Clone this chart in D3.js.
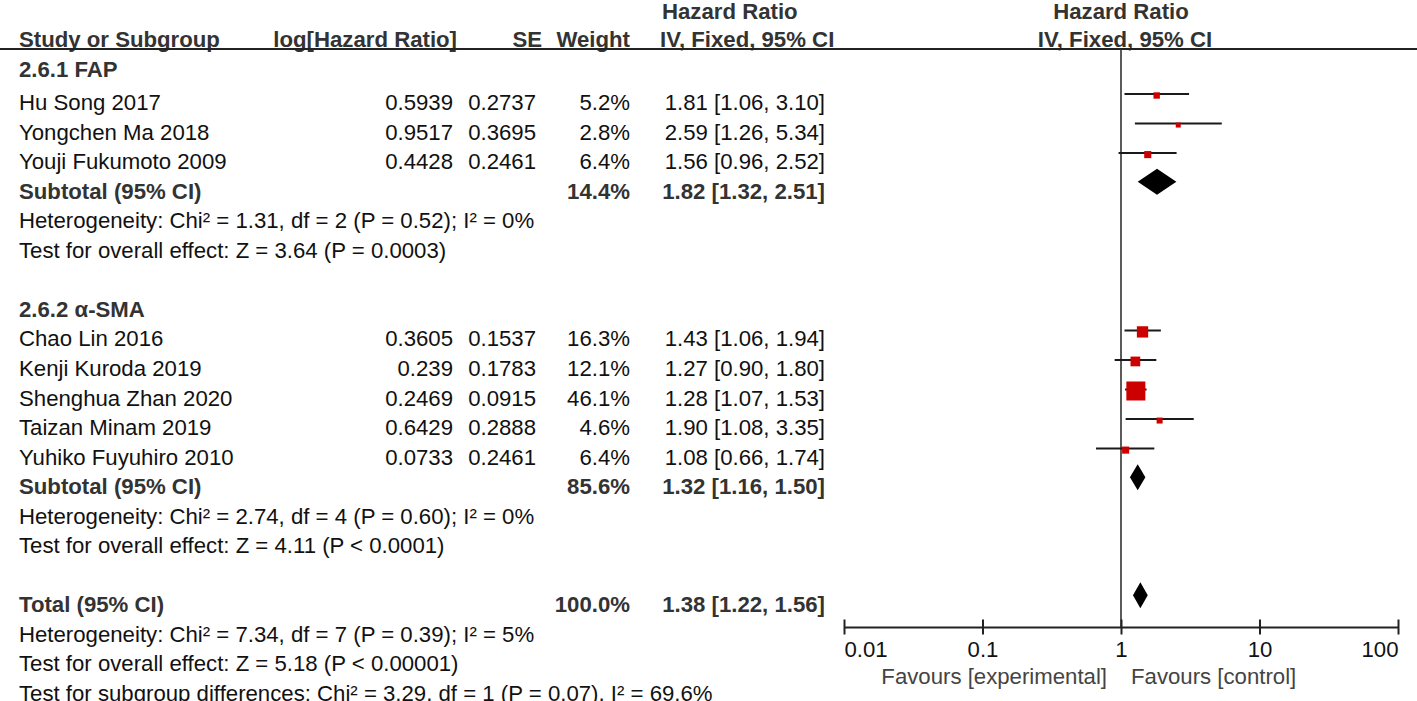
<!DOCTYPE html>
<html>
<head>
<meta charset="utf-8">
<script src="https://cdn.jsdelivr.net/npm/d3@7"></script>
<style>
  body { margin: 0; background: #fff; }
  text { font-family: 'Liberation Sans', Arial, Helvetica, sans-serif; }
</style>
</head>
<body>
<svg></svg>
<script>
// Study level data
var studyNames = ['Hu Song 2017', 'Yongchen Ma 2018', 'Youji Fukumoto 2009',
  'Chao Lin 2016', 'Kenji Kuroda 2019', 'Shenghua Zhan 2020', 'Taizan Minam 2019', 'Yuhiko Fuyuhiro 2010'];
var studyGroup = [0, 0, 0, 1, 1, 1, 1, 1];
var logHR = [0.5939, 0.9517, 0.4428, 0.3605, 0.239, 0.2469, 0.6429, 0.0733];
var seVals = [0.2737, 0.3695, 0.2461, 0.1537, 0.1783, 0.0915, 0.2888, 0.2461];
var weights = [5.2, 2.8, 6.4, 16.3, 12.1, 46.1, 4.6, 6.4];
var hrEst = [1.81, 2.59, 1.56, 1.43, 1.27, 1.28, 1.90, 1.08];
var ciLow = [1.06, 1.26, 0.96, 1.06, 0.90, 1.07, 1.08, 0.66];
var ciHigh = [3.10, 5.34, 2.52, 1.94, 1.80, 1.53, 3.35, 1.74];

// Subgroup data
var groupNames = ['2.6.1 FAP', '2.6.2 \u03b1-SMA'];
var groupWeight = [14.4, 85.6];
var groupHR = [1.82, 1.32];
var groupLow = [1.32, 1.16];
var groupHigh = [2.51, 1.50];
var groupHet = ['Heterogeneity: Chi\u00b2 = 1.31, df = 2 (P = 0.52); I\u00b2 = 0%',
  'Heterogeneity: Chi\u00b2 = 2.74, df = 4 (P = 0.60); I\u00b2 = 0%'];
var groupTest = ['Test for overall effect: Z = 3.64 (P = 0.0003)',
  'Test for overall effect: Z = 4.11 (P < 0.0001)'];

// Overall
var totalWeight = 100.0;
var totalHR = 1.38, totalLow = 1.22, totalHigh = 1.56;
var totalNotes = ['Heterogeneity: Chi\u00b2 = 7.34, df = 7 (P = 0.39); I\u00b2 = 5%',
  'Test for overall effect: Z = 5.18 (P < 0.00001)',
  'Test for subgroup differences: Chi\u00b2 = 3.29, df = 1 (P = 0.07), I\u00b2 = 69.6%'];

// Axis
var axisTicks = [0.01, 0.1, 1, 10, 100];
var tickLabels = ['0.01', '0.1', '1', '10', '100'];
var favourLeft = 'Favours [experimental]';
var favourRight = 'Favours [control]';

// Dimensions
var width = 1417;
var height = 701;
var fontSize = 22.2;
var boldColor = '#333';
var textColor = '#111';

var svg = d3.select('svg')
  .attr('width', width)
  .attr('height', height)
  .style('display', 'block')
  .style('background', '#fff');

// Build the list of table rows
var rows = [];
groupNames.forEach(function (g, gi) {
  rows.push({type: 'group', label: g});
  studyNames.forEach(function (name, i) {
    if (studyGroup[i] === gi) rows.push({type: 'study', i: i});
  });
  rows.push({type: 'subtotal', label: 'Subtotal (95% CI)', w: groupWeight[gi], hr: groupHR[gi], lo: groupLow[gi], hi: groupHigh[gi]});
  rows.push({type: 'note', label: groupHet[gi]});
  rows.push({type: 'note', label: groupTest[gi]});
  rows.push({type: 'blank'});
});
rows.push({type: 'subtotal', label: 'Total (95% CI)', w: totalWeight, hr: totalHR, lo: totalLow, hi: totalHigh});
totalNotes.forEach(function (n) { rows.push({type: 'note', label: n}); });

// Row baselines
var yRow = d3.scaleLinear().domain([1, 21]).range([110, 701]);
function baseline(k) { return k === 0 ? 77 : yRow(k); }

// Plot scale
var x = d3.scaleLog().domain([0.01, 100]).range([844, 1398]);
var axisY = 627;
var boxSize = d3.scaleSqrt().domain([0, 46.1]).range([0, 19]);

function addText(txt, xp, yp, anchor, bold, color) {
  return svg.append('text')
    .attr('x', xp)
    .attr('y', yp)
    .attr('text-anchor', anchor)
    .attr('font-size', fontSize)
    .attr('font-weight', bold ? 'bold' : 'normal')
    .attr('fill', color || (bold ? boldColor : textColor))
    .text(txt);
}

// Header
addText('Study or Subgroup', 19, 47, 'start', true);
addText('log[Hazard Ratio]', 457, 47, 'end', true);
addText('SE', 542, 47, 'end', true);
addText('Weight', 630, 47, 'end', true);
addText('Hazard Ratio', 662, 19, 'start', true);
addText('IV, Fixed, 95% CI', 660, 47, 'start', true);
addText('Hazard Ratio', 1121, 19, 'middle', true);
addText('IV, Fixed, 95% CI', 1125, 47, 'middle', true);

svg.append('line')
  .attr('x1', 0).attr('x2', width)
  .attr('y1', 49).attr('y2', 49)
  .attr('stroke', '#222')
  .attr('stroke-width', 2);

// Line of no effect
svg.append('line')
  .attr('x1', x(1)).attr('x2', x(1))
  .attr('y1', 49).attr('y2', axisY)
  .attr('stroke', '#333')
  .attr('stroke-width', 1.6);

// Table rows + marks
rows.forEach(function (r, k) {
  var by = baseline(k);
  var my = by - 16;
  if (r.type === 'group') {
    addText(r.label, 19, by, 'start', true);
  } else if (r.type === 'note') {
    addText(r.label, 19, by, 'start', false);
  } else if (r.type === 'study') {
    var i = r.i;
    addText(studyNames[i], 19, by, 'start', false);
    addText(String(logHR[i]), 453, by, 'end', false);
    addText(String(seVals[i]), 536, by, 'end', false);
    addText(weights[i].toFixed(1) + '%', 630, by, 'end', false);
    addText(hrEst[i].toFixed(2) + ' [' + ciLow[i].toFixed(2) + ', ' + ciHigh[i].toFixed(2) + ']', 825, by, 'end', false);

    // Confidence interval
    svg.append('line')
      .attr('x1', x(ciLow[i])).attr('x2', x(ciHigh[i]))
      .attr('y1', my).attr('y2', my)
      .attr('stroke', '#1a1a1a')
      .attr('stroke-width', 2);
    // Weighted box
    var s = Math.max(5, boxSize(weights[i]));
    svg.append('rect')
      .attr('x', x(hrEst[i]) - s / 2)
      .attr('y', my + 1.5 - s / 2)
      .attr('width', s)
      .attr('height', s)
      .attr('fill', '#cc0000');
  } else if (r.type === 'subtotal') {
    addText(r.label, 19, by, 'start', true);
    addText(r.w.toFixed(1) + '%', 630, by, 'end', true);
    addText(r.hr.toFixed(2) + ' [' + r.lo.toFixed(2) + ', ' + r.hi.toFixed(2) + ']', 825, by, 'end', true);
    var dy = by - 17;
    svg.append('path')
      .attr('d', 'M' + x(r.lo) + ',' + dy + 'L' + x(r.hr) + ',' + (dy - 13) +
        'L' + x(r.hi) + ',' + dy + 'L' + x(r.hr) + ',' + (dy + 13) + 'Z')
      .attr('fill', '#000');
  }
});

// Axis
var axis = d3.axisBottom(x)
  .tickValues(axisTicks)
  .tickFormat(function (d, i) { return tickLabels[i]; })
  .tickSizeInner(0)
  .tickSizeOuter(0);

var gAxis = svg.append('g')
  .attr('transform', 'translate(0,' + axisY + ')')
  .call(axis);

gAxis.select('.domain')
  .attr('stroke', '#222')
  .attr('stroke-width', 2);

gAxis.selectAll('.tick line')
  .attr('y1', -7.5)
  .attr('y2', 7.5)
  .attr('stroke', '#222')
  .attr('stroke-width', 2);

gAxis.selectAll('.tick text')
  .attr('y', 30)
  .attr('dy', 0)
  .attr('font-size', fontSize)
  .attr('font-family', "'Liberation Sans', Arial, sans-serif")
  .attr('fill', textColor)
  .attr('text-anchor', function (d, i) {
    return i === 0 ? 'start' : (i === axisTicks.length - 1 ? 'end' : 'middle');
  });

addText(favourLeft, x(1) - 14, 684, 'end', false, '#444');
addText(favourRight, x(1) + 10, 684, 'start', false, '#444');
</script>
</body>
</html>
